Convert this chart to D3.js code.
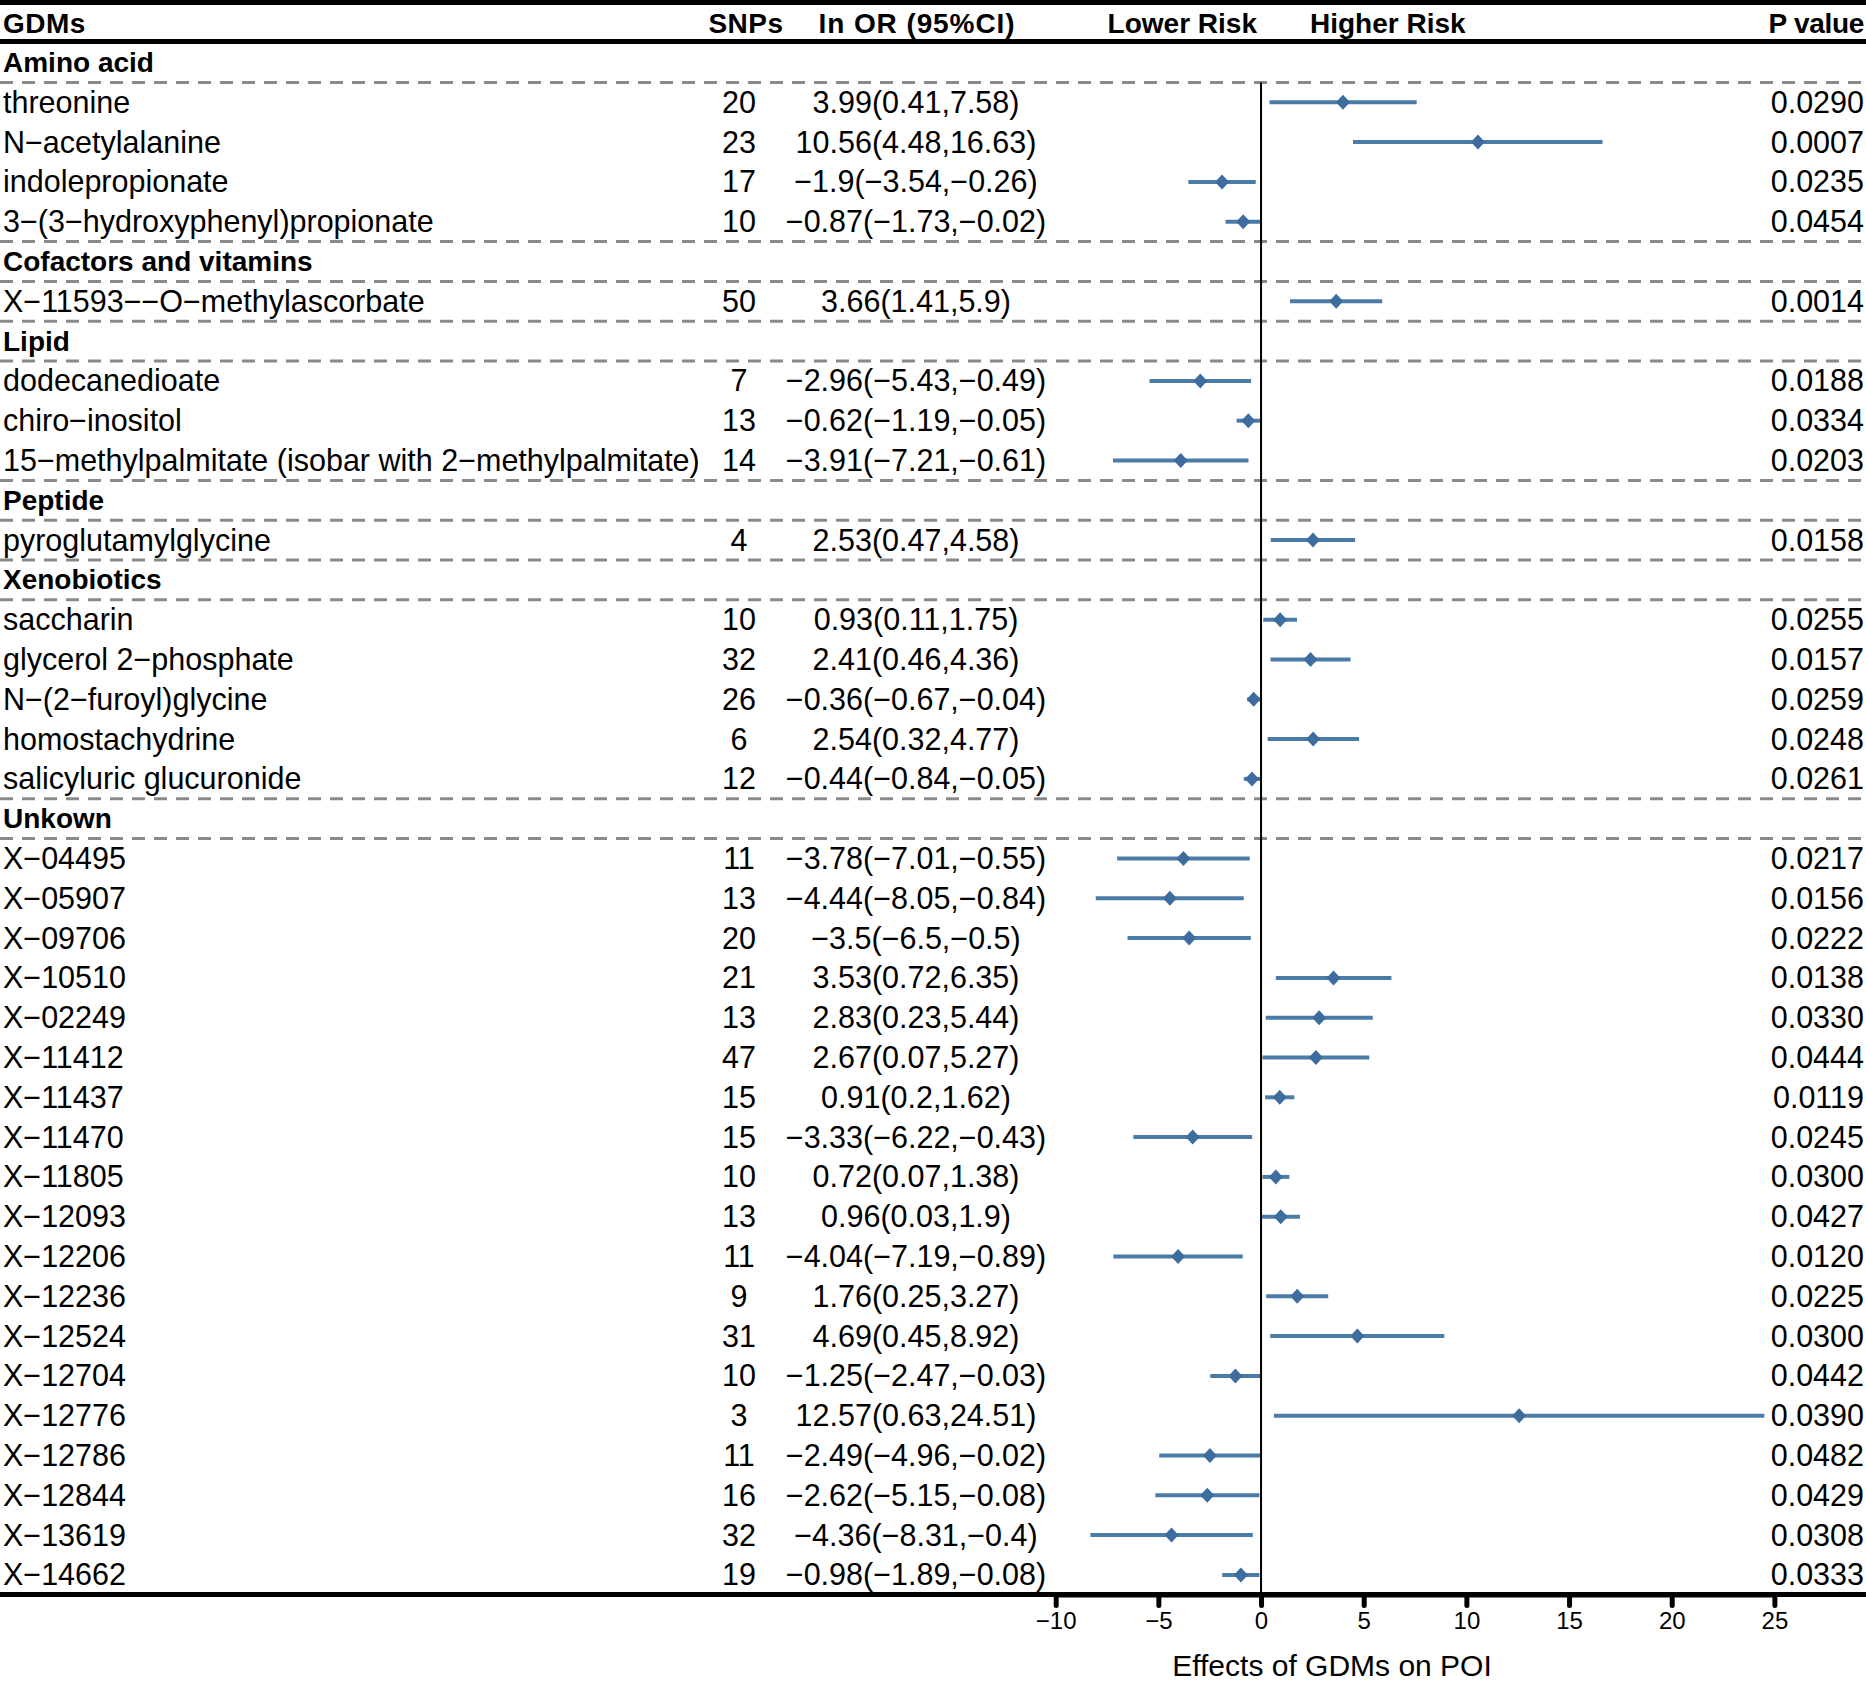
<!DOCTYPE html>
<html>
<head>
<meta charset="utf-8">
<script src="https://cdn.jsdelivr.net/npm/d3@7"></script>
<style>
  body { margin: 0; background: #fff; }
  svg text { font-family: "Liberation Sans", Arial, Helvetica, sans-serif; fill: #000; }
</style>
</head>
<body>
<div id="chart"></div>
<script>
// Groups of metabolites
const groups = ["Amino acid", "Cofactors and vitamins", "Lipid", "Peptide", "Xenobiotics", "Unkown"];

// One entry per metabolite (group index, name, SNPs, estimate, CI, P value)
const groupOf = [0, 0, 0, 0, 1, 2, 2, 2, 3, 4, 4, 4, 4, 4,
    5, 5, 5, 5, 5, 5, 5, 5, 5, 5, 5, 5, 5, 5, 5, 5, 5, 5, 5];
const names = [
    "threonine", "N−acetylalanine", "indolepropionate", "3−(3−hydroxyphenyl)propionate",
    "X−11593−−O−methylascorbate",
    "dodecanedioate", "chiro−inositol", "15−methylpalmitate (isobar with 2−methylpalmitate)",
    "pyroglutamylglycine",
    "saccharin", "glycerol 2−phosphate", "N−(2−furoyl)glycine", "homostachydrine", "salicyluric glucuronide",
    "X−04495", "X−05907", "X−09706", "X−10510", "X−02249", "X−11412", "X−11437", "X−11470",
    "X−11805", "X−12093", "X−12206", "X−12236", "X−12524", "X−12704", "X−12776", "X−12786",
    "X−12844", "X−13619", "X−14662"
];
const snps = [20, 23, 17, 10, 50, 7, 13, 14, 4, 10, 32, 26, 6, 12,
    11, 13, 20, 21, 13, 47, 15, 15, 10, 13, 11, 9, 31, 10, 3, 11, 16, 32, 19];
const est = [3.99, 10.56, -1.9, -0.87, 3.66, -2.96, -0.62, -3.91, 2.53, 0.93, 2.41, -0.36, 2.54, -0.44,
    -3.78, -4.44, -3.5, 3.53, 2.83, 2.67, 0.91, -3.33, 0.72, 0.96, -4.04, 1.76, 4.69, -1.25, 12.57, -2.49, -2.62, -4.36, -0.98];
const lower = [0.41, 4.48, -3.54, -1.73, 1.41, -5.43, -1.19, -7.21, 0.47, 0.11, 0.46, -0.67, 0.32, -0.84,
    -7.01, -8.05, -6.5, 0.72, 0.23, 0.07, 0.2, -6.22, 0.07, 0.03, -7.19, 0.25, 0.45, -2.47, 0.63, -4.96, -5.15, -8.31, -1.89];
const upper = [7.58, 16.63, -0.26, -0.02, 5.9, -0.49, -0.05, -0.61, 4.58, 1.75, 4.36, -0.04, 4.77, -0.05,
    -0.55, -0.84, -0.5, 6.35, 5.44, 5.27, 1.62, -0.43, 1.38, 1.9, -0.89, 3.27, 8.92, -0.03, 24.51, -0.02, -0.08, -0.4, -0.08];
const pvals = ["0.0290", "0.0007", "0.0235", "0.0454", "0.0014", "0.0188", "0.0334", "0.0203", "0.0158",
    "0.0255", "0.0157", "0.0259", "0.0248", "0.0261",
    "0.0217", "0.0156", "0.0222", "0.0138", "0.0330", "0.0444", "0.0119", "0.0245", "0.0300", "0.0427",
    "0.0120", "0.0225", "0.0300", "0.0442", "0.0390", "0.0482", "0.0429", "0.0308", "0.0333"];

// Axis ticks
const xTicks = [-10, -5, 0, 5, 10, 15, 20, 25];

// Build row list: group header followed by its metabolites
var rows = [];
groups.forEach((g, gi) => {
    rows.push({ header: true, label: g });
    names.forEach((n, i) => {
        if (groupOf[i] === gi) {
            rows.push({ header: false, label: n, snp: snps[i], est: est[i], lo: lower[i], hi: upper[i], p: pvals[i] });
        }
    });
});

var W = 1866, H = 1688;
var fs = "30.5px";
var fmt = v => String(v).replace("-", "−");

var svg = d3.select("#chart")
    .append("svg")
    .attr("width", W)
    .attr("height", H);

// Row scale and effect scale
var y = d3.scaleLinear().domain([0, rows.length - 1]).range([62.5, 62.5 + 39.8 * (rows.length - 1)]);
var rowH = y(1) - y(0);
var x = d3.scaleLinear().domain([-10, 25]).range([1055.7, 1774.4]);

// Header lines
[2.5, 41.5, 1594.5].forEach(ly => {
    svg.append("line")
        .attr("x1", 0).attr("x2", W)
        .attr("y1", ly).attr("y2", ly)
        .attr("stroke", "#000")
        .attr("stroke-width", 5);
});

// Header texts
var headers = [
    { t: "GDMs", x: 3, a: "start", ls: 0.5 },
    { t: "SNPs", x: 746, a: "middle", ls: 0.5 },
    { t: "In OR (95%CI)", x: 917, a: "middle", ls: 0.9 },
    { t: "Lower Risk", x: 1257, a: "end", ls: 0 },
    { t: "Higher Risk", x: 1310, a: "start", ls: 0 },
    { t: "P value", x: 1864, a: "end", ls: -0.3 }
];
svg.append("g")
    .selectAll("text")
    .data(headers)
    .enter()
    .append("text")
    .attr("x", d => d.x)
    .attr("y", 33)
    .attr("text-anchor", d => d.a)
    .style("font-size", "28px")
    .style("font-weight", "bold")
    .style("letter-spacing", d => d.ls + "px")
    .text(d => d.t);

// Dashed separators around group headers
var dashY = [];
rows.forEach((r, i) => {
    if (r.header) {
        if (i > 0) dashY.push(y(i) - rowH / 2);
        dashY.push(y(i) + rowH / 2);
    }
});
svg.append("g")
    .selectAll("line")
    .data(dashY)
    .enter()
    .append("line")
    .attr("x1", 0).attr("x2", W)
    .attr("y1", d => d).attr("y2", d => d)
    .attr("stroke", "#8a8a8a")
    .attr("stroke-width", 3)
    .attr("stroke-dasharray", "13,9");

// Row texts
var rowG = svg.append("g")
    .selectAll("g")
    .data(rows)
    .enter()
    .append("g")
    .attr("transform", (d, i) => "translate(0," + y(i) + ")");

rowG.append("text")
    .attr("x", 3)
    .attr("y", d => d.header ? 9.5 : 10.5)
    .style("font-size", d => d.header ? "28px" : fs)
    .style("font-weight", d => d.header ? "bold" : "normal")
    .text(d => d.label);

var dataG = rowG.filter(d => !d.header);

dataG.append("text")
    .attr("x", 739)
    .attr("y", 10.5)
    .attr("text-anchor", "middle")
    .style("font-size", fs)
    .text(d => d.snp);

dataG.append("text")
    .attr("x", 916)
    .attr("y", 10.5)
    .attr("text-anchor", "middle")
    .style("font-size", fs)
    .text(d => fmt(d.est) + "(" + fmt(d.lo) + "," + fmt(d.hi) + ")");

dataG.append("text")
    .attr("x", 1864)
    .attr("y", 10.5)
    .attr("text-anchor", "end")
    .style("font-size", fs)
    .text(d => d.p);

// Reference line at zero
svg.append("line")
    .attr("x1", x(0)).attr("x2", x(0))
    .attr("y1", y(0) + rowH / 2).attr("y2", 1593)
    .attr("stroke", "#000")
    .attr("stroke-width", 2);

// Confidence intervals
dataG.append("line")
    .attr("x1", d => x(d.lo))
    .attr("x2", d => x(d.hi))
    .attr("y1", 0).attr("y2", 0)
    .attr("stroke", "#4b7ba7")
    .attr("stroke-width", 4);

// Diamond markers
dataG.append("path")
    .attr("transform", d => "translate(" + x(d.est) + ",0)")
    .attr("d", "M0,-7.5L7,0L0,7.5L-7,0Z")
    .attr("fill", "#3d6c9e");

// X axis
var axis = svg.append("g")
    .attr("transform", "translate(0,1594.5)")
    .call(d3.axisBottom(x).tickValues(xTicks).tickSize(11).tickSizeOuter(0).tickPadding(6));
axis.select(".domain")
    .attr("stroke", "#000")
    .attr("stroke-width", 5);
axis.selectAll(".tick line")
    .attr("stroke", "#000")
    .attr("stroke-width", 5)
    .attr("stroke-linecap", "round");
axis.selectAll(".tick text")
    .style("font-size", "24px")
    .style("font-family", "'Liberation Sans', Arial, sans-serif")
    .attr("fill", "#000");

// Axis title
svg.append("text")
    .attr("x", 1332)
    .attr("y", 1676)
    .attr("text-anchor", "middle")
    .style("font-size", "30px")
    .text("Effects of GDMs on POI");
</script>
</body>
</html>
